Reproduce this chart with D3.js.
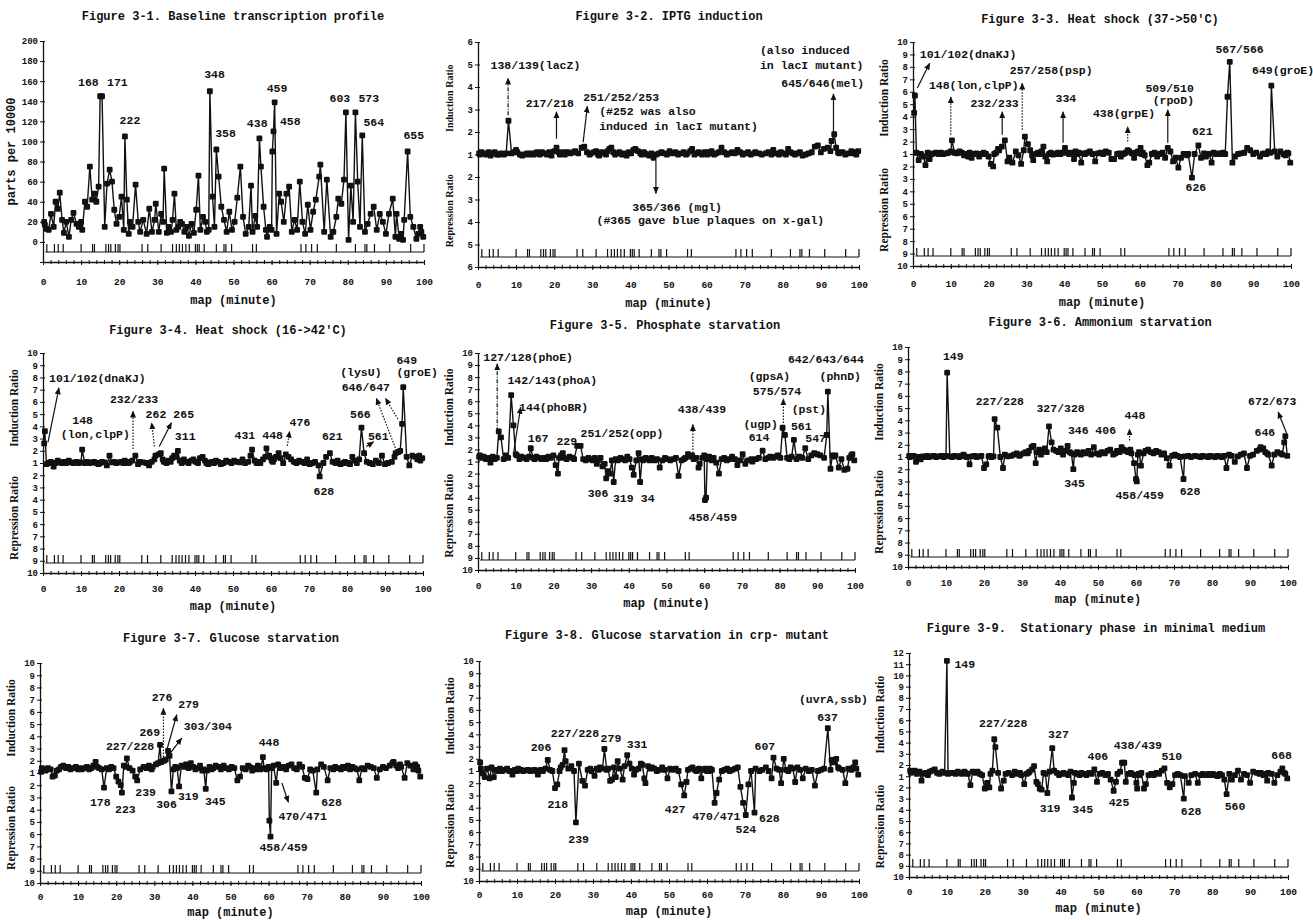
<!DOCTYPE html>
<html><head><meta charset="utf-8">
<script src="https://cdn.jsdelivr.net/npm/d3@7"></script>
<style>body{margin:0;background:#fff}</style>
</head><body><svg id="c" width="1313" height="920"></svg>
<script>
// ---- shared clone positions on the E. coli map (minutes) ----
const mapX = [
 0.3, 0.5, 0.9, 1.5, 2.1, 2.8, 3.3, 3.9, 4.4, 5.0,
 5.5, 6.1, 6.8, 7.4, 8.0, 8.8, 9.4, 10.0, 10.3, 11.0,
 11.6, 12.3, 12.9, 13.5, 14.0, 14.6, 15.0, 15.5, 16.2, 16.8,
 17.5, 18.1, 18.7, 19.3, 20.0, 20.6, 21.2, 21.5, 22.0, 22.5,
 22.8, 23.5, 24.3, 25.0, 25.5, 26.3, 27.2, 27.9, 28.6, 29.3,
 29.6, 30.4, 31.0, 31.5, 31.8, 32.5, 33.0, 33.6, 34.0, 34.5,
 35.0, 35.5, 36.0, 36.5, 37.1, 37.8, 38.3, 39.0, 39.6, 40.2,
 40.8, 41.3, 42.0, 42.6, 43.0, 43.5, 43.8, 44.5, 45.0, 45.5,
 46.1, 46.8, 47.5, 48.2, 48.9, 49.6, 50.3, 51.0, 51.8, 52.5,
 53.2, 54.0, 54.6, 55.0, 55.7, 56.2, 56.8, 57.2, 57.9, 58.5,
 58.8, 59.5, 60.0, 60.2, 60.5, 60.8, 61.3, 62.0, 62.5, 63.2,
 63.9, 64.6, 65.3, 66.0, 66.7, 67.4, 68.1, 68.8, 69.5, 70.2,
 70.9, 71.6, 72.5, 72.8, 73.8, 74.5, 75.5, 76.2, 77.0, 77.5,
 78.3, 79.0, 79.5, 80.2, 80.8, 81.4, 82.0, 82.6, 83.2, 83.8,
 84.5, 85.2, 86.0, 86.8, 87.6, 88.4, 89.2, 90.0, 90.8, 91.8,
 92.5, 92.8, 93.5, 94.0, 94.5, 94.8, 95.7, 96.4, 97.2, 98.0,
 98.5, 99.0, 99.3, 99.8];

// Figure 3-1: parts per 10000
const baseline = [
 20, 17, 13, 12, 28, 15, 40, 33, 49, 22,
 9, 20, 5, 22, 29, 18, 15, 20, 12, 40,
 35, 75, 42, 48, 40, 55, 145, 145, 15, 58,
 72, 60, 32, 18, 25, 45, 12, 105, 42, 8,
 20, 15, 57, 20, 10, 22, 8, 33, 10, 22,
 38, 10, 28, 20, 73, 9, 15, 10, 22, 48,
 12, 15, 20, 18, 10, 15, 6, 18, 9, 32,
 66, 12, 25, 20, 10, 12, 150, 45, 15, 92,
 65, 35, 22, 10, 30, 12, 20, 44, 75, 25,
 8, 15, 56, 10, 26, 15, 103, 75, 35, 12,
 5, 15, 12, 90, 110, 139, 8, 48, 40, 20,
 48, 55, 10, 22, 12, 60, 20, 8, 37, 12,
 30, 42, 65, 77, 10, 62, 5, 10, 25, 43,
 38, 62, 129, 2, 56, 20, 129, 60, 15, 106,
 10, 18, 28, 35, 12, 28, 20, 8, 28, 43,
 5, 28, 3, 8, 2, 22, 90, 25, 15, 3,
 8, 15, 10, 5];

// Ratios: positive = induction ratio, negative = repression ratio
const iptg = [
 1.05, 1.0, 1.1, 1.05, 1.0, 1.1, -1.05, 1.05, 1.1, 1.0,
 1.0, 1.05, 1.0, 1.05, 2.5, 1.05, 1.1, 1.2, 1.1, 1.0,
 -1.05, 1.0, 1.05, 1.0, 1.05, 1.0, 1.05, 1.1, 1.0, 1.1,
 1.05, 1.0, 1.1, -1.05, 1.15, 1.3, 1.1, 1.0, 1.05, 1.1,
 1.0, 1.1, 1.05, 1.1, 1.15, 1.05, 1.3, 1.35, 1.1, 1.0,
 1.05, 1.1, 1.15, 1.0, -1.05, 1.1, 1.05, 1.0, 1.15, 1.25,
 1.3, 1.1, 1.0, 1.05, 1.1, 1.0, 1.05, -1.05, 1.1, 1.05,
 1.2, 1.25, 1.15, 1.05, 1.0, 1.1, 1.05, 1.0, -1.05, 1.05,
 -1.15, 1.0, 1.05, 1.1, 1.05, 1.0, 1.15, 1.05, 1.1, 1.0,
 1.05, 1.1, 1.0, 1.05, 1.15, 1.25, 1.0, 1.05, 1.1, 1.05,
 1.0, 1.1, 1.05, 1.0, 1.1, 1.05, 1.15, 1.0, 1.05, 1.1,
 1.3, 1.1, 1.0, 1.05, 1.1, 1.05, 1.2, 1.1, 1.0, 1.05,
 1.1, 1.0, 1.05, 1.1, 1.05, 1.0, 1.05, 1.1, 1.0, 1.2,
 1.05, 1.0, 1.1, 1.05, 1.0, 1.25, 1.1, 1.05, 1.0, 1.05,
 1.1, -1.05, 1.0, 1.05, 1.1, 1.35, 1.4, 1.1, 1.25, 1.3,
 1.15, 1.6, 1.9, 1.3, 1.1, 1.05, 1.1, 1.0, 1.05, 1.15,
 1.05, 1.1, 1.0, 1.15];

const heat50 = [
 4.3, 5.7, 1.1, -1.5, 1.0, -1.2, -1.9, 1.1, -1.4, 1.0,
 1.05, 1.1, 1.0, 1.1, 1.0, 1.05, 1.1, 1.2, 2.1, 1.1,
 1.05, 1.2, 1.1, -1.1, 1.0, -1.2, 1.1, -1.3, 1.0, 1.05,
 -1.2, 1.0, 1.1, 1.0, -1.2, -1.8, -2.0, 1.0, 1.1, 1.4,
 1.3, 1.6, 2.1, -1.6, -1.3, -1.7, 1.2, -1.1, -1.8, 1.3,
 2.4, 1.8, 1.3, -1.1, -1.5, 1.0, 1.1, 1.0, 1.2, 1.6,
 -1.2, -1.6, 1.0, 1.1, -1.05, 1.0, 1.1, 1.0, 1.1, 1.5,
 1.1, 1.0, 1.1, -1.4, 1.2, 1.0, 1.1, -1.7, 1.05, 1.0,
 1.1, 1.2, 1.0, -1.6, 1.05, 1.1, 1.0, 1.2, 1.1, -1.4,
 -1.4, 1.0, 1.05, -1.2, 1.0, 1.1, 1.3, 1.2, 1.05, -1.3,
 1.1, 1.2, 1.05, 1.5, 1.0, 1.1, -1.1, -1.9, -1.7, 1.0,
 1.1, -1.2, 1.0, 1.1, -1.3, 1.5, 1.2, -1.6, -1.3, -2.1,
 -1.3, 1.0, -1.1, 1.0, -2.9, 1.0, 1.7, -1.3, 1.05, -1.2,
 1.0, -1.7, 1.1, 1.0, 1.05, 1.0, 1.1, 1.0, 5.6, 8.4,
 -1.7, -1.2, 1.0, 1.05, 1.1, 1.5, 1.3, 1.0, 1.1, -1.2,
 1.0, 1.05, 1.0, 1.2, 1.1, 6.5, 1.2, -1.2, 1.2, 1.0,
 -1.1, 1.1, 1.05, -1.7];

const heat42 = [
 2.6, 3.6, -1.1, 1.0, 1.1, -1.3, 1.0, 1.2, 1.05, 1.0,
 1.1, 1.0, 1.2, 1.05, 1.0, 1.1, 1.0, 1.05, 2.1, 1.0,
 1.1, 1.0, 1.05, 1.1, 1.0, -1.1, 1.0, 1.1, 1.05, -1.2,
 1.6, 1.05, 1.1, 1.0, 1.05, 1.1, 1.0, 1.2, 1.1, 1.0,
 1.05, 1.2, 1.6, -1.1, 1.1, 1.05, 1.0, -1.2, 1.1, 1.3,
 1.6, 1.7, 1.8, 1.3, 1.1, 1.0, 1.2, 1.1, 1.4, 1.6,
 1.5, 2.0, 1.2, 1.0, 1.3, 1.1, 1.0, 1.2, 1.3, 1.1,
 1.0, 1.4, 1.5, 1.2, 1.0, -1.1, 1.05, 1.1, 1.0, 1.2,
 1.1, -1.1, 1.0, 1.2, 1.1, 1.0, 1.2, 1.1, 1.05, 1.3,
 1.0, 1.1, 1.6, 2.1, 1.2, 1.0, 1.1, 1.0, 1.3, 1.5,
 2.2, 1.6, 1.4, 1.2, 1.1, 1.3, 1.5, 1.8, 1.4, 1.0,
 1.7, 1.5, 1.3, 1.1, 1.0, 1.2, 1.1, 1.0, 1.3, -1.1,
 1.0, 1.1, -1.2, -2.1, 1.0, 1.5, 1.8, 1.1, 1.0, 1.2,
 -1.1, 1.0, 1.1, 1.0, -1.1, 1.5, 1.2, 1.0, 1.3, 3.9,
 1.8, 1.1, 1.0, -1.1, 1.2, 1.0, 1.6, -1.1, 1.0, 1.1,
 1.5, 1.8, 1.9, 2.0, 4.2, 7.2, 1.5, -1.2, 1.6, 1.5,
 1.3, 1.6, 1.2, 1.4];

const phosphate = [
 1.4, 1.5, 1.3, 1.4, 1.2, 1.3, -1.1, 1.4, 1.2, 1.3,
 3.5, 3.0, 1.2, 1.5, 1.3, 6.5, 4.0, 1.6, 1.5, 1.2,
 1.4, 1.3, 1.2, 1.4, 2.1, 1.3, 1.2, 1.4, 1.3, 1.2,
 1.3, 1.2, 1.4, 1.3, 1.5, -1.3, -2.0, 1.3, 1.5, 1.7,
 1.3, 1.2, 1.4, 1.3, 1.2, 2.3, 2.3, 1.2, 1.1, 1.3,
 1.2, 1.1, 1.3, -1.2, 1.1, 1.3, -1.4, -1.2, -2.4, -1.8,
 -2.0, 1.1, -2.7, 1.2, 1.1, 1.3, 1.2, 1.1, 1.4, 1.2,
 -1.5, -2.1, 1.1, 1.7, -2.7, 1.2, 1.1, 1.3, 1.2, 1.1,
 1.3, 1.1, 1.2, -1.5, 1.1, 1.3, 1.2, 1.1, 1.2, 1.3,
 -2.2, 1.1, 1.2, 1.3, 1.6, 1.4, 1.5, 1.2, 1.3, -1.5,
 -1.2, 1.3, 1.5, -4.2, -4.0, 1.2, 1.4, 1.1, 1.3, -1.1,
 -2.0, 1.2, 1.3, 1.1, 1.2, 1.4, 1.2, -1.3, 1.1, 1.6,
 -1.2, 1.1, 1.2, 1.0, 1.2, 1.3, 1.9, 1.2, 1.3, 1.4,
 1.3, 1.4, 1.5, 1.3, 3.8, 3.2, 1.3, 1.2, 1.4, 2.8,
 1.2, 1.4, 1.3, 2.1, 1.2, 1.5, 1.7, 1.6, 1.5, 1.3,
 3.2, 6.8, -1.6, 1.5, 1.4, 1.5, -1.5, 1.2, -1.7, -1.6,
 1.3, 1.5, 1.6, 1.1];

const ammonium = [
 1.1, 1.0, 1.05, 1.1, -1.4, 1.0, -1.2, 1.05, 1.0, 1.1,
 1.0, 1.05, 1.1, 1.0, 1.05, 1.1, 1.0, 1.1, 7.9, 1.05,
 1.0, 1.1, 1.05, 1.0, 1.1, 1.2, 1.05, 1.0, -1.6, 1.05,
 1.1, 1.0, 1.05, 1.1, -1.9, -1.6, 1.05, 1.1, 1.0, 1.05,
 4.1, 3.4, 1.0, -1.9, 1.2, 1.05, 1.1, 1.2, 1.3, 1.1,
 1.2, 1.3, 1.4, 1.3, 1.5, 1.8, 1.9, -1.5, 1.4, 1.6,
 1.2, 1.5, 1.7, 1.4, 3.5, 2.2, 1.6, 1.5, 1.4, 1.7,
 1.2, 1.5, 1.9, 1.4, 1.3, -2.0, 1.2, 1.4, 1.3, 1.2,
 1.4, 1.3, 1.5, 1.2, 1.8, 1.3, 1.2, 1.4, 1.3, 1.5,
 1.6, 1.2, 1.3, 1.5, 1.4, 1.8, 1.6, 1.5, 1.4, 1.6,
 1.3, -1.5, -2.8, -3.0, 1.2, 1.4, -1.7, 1.3, 1.5, 1.6,
 1.4, 1.3, 1.5, 1.4, 1.2, 1.3, -1.1, -1.7, 1.1, 1.2,
 1.1, 1.0, -2.8, 1.05, 1.1, 1.0, 1.1, 1.05, 1.0, 1.1,
 1.05, 1.0, 1.1, 1.05, 1.0, 1.1, 1.05, 1.0, 1.1, -1.9,
 1.2, 1.1, -1.4, 1.05, 1.2, 1.3, -1.9, 1.1, 1.2, 1.5,
 1.6, 1.8, 1.7, 1.4, 1.3, 1.2, -1.7, 1.2, 1.4, 1.3,
 1.2, 2.2, 2.7, 1.1];

const glucose = [
 1.1, 1.4, 1.3, 1.2, 1.4, 1.3, -1.3, -1.2, 1.2, 1.3,
 1.5, 1.6, 1.4, 1.5, 1.3, 1.4, 1.5, 1.3, 1.4, 1.3,
 1.4, 1.5, 1.3, 1.4, 1.6, 1.9, 1.5, 1.4, 1.3, -2.2,
 1.4, 1.3, 1.5, 1.4, -1.3, -1.7, -2.0, -2.6, 1.6, 1.5,
 2.2, 1.4, 1.2, -1.3, -1.6, 1.3, 1.5, 1.4, 1.6, 1.3,
 1.5, 1.7, 1.8, 3.3, 1.9, 2.0, 2.1, 2.8, 2.4, -2.5,
 1.3, 1.5, 1.4, -2.1, 1.6, 1.5, 1.7, 1.4, 1.8, 1.5,
 1.3, 1.4, 1.6, 1.2, 1.3, -2.3, 1.2, 1.5, 1.3, 1.4,
 1.6, 1.5, 1.3, 1.6, 1.4, 1.3, 1.5, 1.4, -1.6, -1.3,
 1.4, 1.3, 1.6, 1.5, 1.2, 1.4, 1.3, 1.6, 1.3, 2.3,
 1.4, 1.3, 1.5, -4.9, -6.2, 1.4, 1.6, -1.8, 1.7, 1.4,
 1.5, 1.3, 1.6, 1.7, 1.4, 1.3, 1.7, 1.5, -1.4, -1.5,
 1.3, 1.2, -2.6, 1.3, 1.7, 1.5, -1.6, 1.4, 1.3, 1.5,
 1.4, 1.3, 1.5, 1.4, 1.6, 1.3, 1.5, 1.4, 1.3, -1.6,
 1.4, 1.3, 1.6, 1.5, 1.4, -1.4, 1.3, 1.5, 1.4, 1.6,
 1.8, 1.9, 1.6, 1.4, 1.7, 1.5, -1.4, 1.8, 1.6, 1.3,
 1.7, 1.5, 1.2, -1.3];

const glucoseCrp = [
 1.7, 1.2, -1.2, -1.5, 1.2, -1.6, 1.3, -1.5, 1.1, 1.0,
 1.2, 1.0, 1.1, 1.2, 1.0, -1.3, 1.1, 1.0, 1.2, 1.1,
 1.0, 1.05, 1.1, 1.0, 1.05, 1.1, 1.0, -1.3, 1.1, 1.0,
 1.2, 1.9, 1.1, 1.0, -2.4, -2.1, 1.0, 1.3, 1.5, 2.7,
 1.8, 1.2, 1.4, 1.0, -5.2, 1.6, -1.8, -2.2, 1.1, 1.2,
 1.0, -1.4, 1.2, 1.1, 1.3, 1.2, 2.8, 1.1, 1.2, -1.8,
 -1.7, 1.3, -1.5, 1.8, 1.2, -1.7, 1.4, 2.3, 1.6, 1.2,
 -1.3, 1.1, 1.2, 1.6, 1.5, -1.6, -2.0, 1.4, 1.2, 1.3,
 1.2, 1.0, 1.1, 1.3, 1.1, -1.6, 1.2, 1.1, 1.2, 1.0,
 -2.1, -3.0, -1.9, 1.1, 1.2, 1.3, 1.1, 1.0, 1.2, -1.6,
 1.1, 1.2, 1.0, 1.1, 1.0, 1.2, 1.1, -3.6, -2.8, -1.7,
 1.0, 1.1, 1.2, 1.0, 1.1, 1.2, 1.3, -2.3, -3.6, -4.6,
 -2.1, 1.0, -4.4, 1.2, 1.0, 1.1, 1.3, 1.0, -1.6, 2.1,
 1.2, 1.1, -2.0, 2.0, 1.1, 1.0, 1.3, 1.2, -1.9, 1.3,
 1.1, -1.6, 1.2, 1.0, 1.1, -2.2, 1.0, 1.1, 1.2, 4.5,
 1.1, 1.9, 1.7, 2.0, 1.3, 1.2, 1.1, -2.0, 1.2, 1.1,
 1.3, 1.7, 1.2, -1.3];

const stationary = [
 1.5, 1.3, 1.4, 1.5, 1.2, 1.4, -1.4, 1.2, 1.3, 1.1,
 1.4, 1.5, 1.6, 1.3, 1.2, 1.4, 1.3, 11.3, 1.2, 1.3,
 1.3, 1.2, 1.4, 1.3, 1.2, 1.4, 1.3, 1.2, -1.8, 1.4,
 1.3, 1.4, 1.2, 1.1, -2.1, -1.6, -2.0, 1.2, 1.5, 4.3,
 3.6, 1.3, -2.1, -1.4, 1.2, 1.3, 1.1, 1.4, 1.2, 1.3,
 1.1, -1.7, 1.2, 1.3, 1.4, 1.6, 1.9, -1.5, -1.7, -2.1,
 -2.2, 1.3, 1.2, -2.5, 1.4, 3.5, 1.5, 1.3, 1.1, 1.2,
 1.3, 1.2, 1.1, 1.4, -2.9, -1.6, 1.3, 1.2, 1.1, 1.3,
 1.2, 1.1, 1.3, 1.2, 1.6, -1.5, 1.2, 1.3, 1.1, 1.2,
 -1.3, -2.3, -1.5, 1.2, 1.4, 2.2, 2.2, -1.5, 1.2, 1.3,
 1.2, 1.1, -1.6, -2.1, 1.2, 1.1, 1.3, -2.1, -1.7, 1.1,
 1.2, 1.1, 1.3, 1.2, 1.5, 1.7, -1.6, -2.0, -1.7, 1.1,
 1.2, 1.1, -3.0, 1.0, -1.6, 1.1, 1.2, -1.6, 1.1, 1.2,
 1.1, 1.2, 1.1, 1.2, 1.1, 1.0, 1.2, 1.1, -1.3, -2.6,
 1.2, -1.3, 1.1, 1.5, -1.3, 1.2, 1.1, -1.6, 1.4, 1.3,
 1.2, 1.3, 1.1, 1.2, -1.4, 1.3, 1.2, -1.6, 1.1, 1.4,
 1.7, 1.3, 1.2, -1.2];

// gene map marks (minutes)
const mapMarks = [1, 3, 4, 5.3, 10, 13, 13.5, 16.5, 17.2, 17.8, 19, 19.7, 20.2, 26, 27.5, 31,
 34, 35, 35.8, 36.6, 37.5, 38.4, 40, 40.5, 41, 42.3, 45.5, 47.5, 48, 49.5, 55, 56,
 67.7, 69, 70.5, 72, 77, 82, 84.5, 85, 87, 91, 96.5, 100];

// tick values
const xTickValues = [0, 10, 20, 30, 40, 50, 60, 70, 80, 90, 100];
const baselineTicks = [-20, 0, 20, 40, 60, 80, 100, 120, 140, 160, 180, 200];
const ratioTicks10 = [10, 9, 8, 7, 6, 5, 4, 3, 2, 1, -2, -3, -4, -5, -6, -7, -8, -9, -10];
const ratioTicks6 = [6, 5, 4, 3, 2, 1, -2, -3, -4, -5, -6];
const ratioTicks12 = [12, 11, 10, 9, 8, 7, 6, 5, 4, 3, 2, 1, -2, -3, -4, -5, -6, -7, -8, -9, -10];

const titles = [
 "Figure 3-1. Baseline transcription profile",
 "Figure 3-2. IPTG induction",
 "Figure 3-3. Heat shock (37->50'C)",
 "Figure 3-4. Heat shock (16->42'C)",
 "Figure 3-5. Phosphate starvation",
 "Figure 3-6. Ammonium starvation",
 "Figure 3-7. Glucose starvation",
 "Figure 3-8. Glucose starvation in crp- mutant",
 "Figure 3-9.  Stationary phase in minimal medium"];

// annotation labels: [text, map minute, ratio]
const labels1 = [["168",9.2,155],["171",16.8,155],["222",20.1,117],["348",42.3,163],["358",45.2,104],
 ["438",53.5,114],["459",58.7,149],["458",62.2,116],["603",75.2,139],["573",82.8,139],["564",84.1,115],["655",94.6,102]];
const labels2 = [["138/139(lacZ)",3.3,4.8],["217/218",12.5,3.1],["251/252/253",27.6,3.4],["(#252 was also",31.8,2.75],
 ["induced in lacI mutant)",31.8,2.1],["(also induced",74.0,5.45],["in lacI mutant)",74.0,4.78],["645/646(mel)",79.6,4.0],
 ["365/366 (mgl)",40.5,-3.5],["(#365 gave blue plaques on x-gal)",31.1,-4.1]];
const labels3 = [["101/102(dnaKJ)",1.8,8.7],["148(lon,clpP)",4.2,6.2],["257/258(psp)",25.6,7.4],["232/233",15.2,4.75],
 ["334",37.7,5.15],["509/510",61.5,5.95],["(rpoD)",63.4,5.05],["438(grpE)",47.6,4.0],["567/566",80.0,9.1],
 ["649(groE)",89.7,7.4],["621",73.8,2.55],["626",72.1,-4.0]];
const labels4 = [["101/102(dnaKJ)",1.6,7.6],["148",7.7,4.17],["(lon,clpP)",4.7,3.03],["232/233",17.6,5.9],["262",27.0,4.7],
 ["265",34.3,4.7],["311",34.7,2.9],["431",50.4,3.0],["448",57.7,3.0],["476",64.9,4.0],["621",73.4,2.9],["628",71.2,-3.65],
 ["566",80.8,4.7],["561",85.5,2.9],["(lysU)",78.2,8.15],["646/647",78.6,6.9],["649",93.0,9.1],["(groE)",93.0,8.1]];
const labels5 = [["127/128(phoE)",1.4,9.3],["142/143(phoA)",7.8,7.4],["144(phoBR)",10.9,5.2],["167",13.2,2.6],["229",20.8,2.4],
 ["251/252(opp)",27.2,3.0],["306",29.1,-3.93],["319",35.8,-4.4],["34",43.2,-4.4],["438/439",53.0,5.0],["458/459",55.9,-5.9],
 ["(gpsA)",71.8,7.8],["575/574",72.9,6.5],["(pst)",83.2,5.05],["(ugp)",70.4,3.8],["614",71.8,2.68],["561",83.0,3.65],
 ["547",86.8,2.6],["642/643/644",82.2,9.15],["(phnD)",90.6,7.8]];
const labels6 = [["149",9.2,8.96],["227/228",17.8,5.28],["327/328",33.8,4.68],["346",42.1,2.9],["406",49.3,2.9],["448",57.0,4.13],
 ["345",41.1,-3.45],["458/459",54.6,-4.4],["628",71.5,-4.08],["646",91.2,2.7],["672/673",89.5,5.28]];
const labels7 = [["276",29.3,6.86],["279",36.3,6.3],["303/304",37.7,4.5],["269",26.1,4.0],["227/228",17.3,2.9],["448",57.4,3.18],
 ["178",13.1,-3.72],["223",19.7,-4.27],["239",25.0,-2.85],["306",30.5,-3.86],["319",36.2,-3.23],["345",43.3,-3.59],
 ["628",73.8,-3.72],["470/471",62.6,-4.81],["458/459",57.6,-7.4]];
const labels8 = [["206",13.6,2.65],["227/228",18.9,3.75],["279",32.0,3.34],["331",38.9,2.87],["218",18.0,-4.0],["239",23.5,-6.9],
 ["427",48.9,-4.43],["470/471",56.1,-4.98],["524",67.5,-6.08],["628",73.7,-5.18],["607",72.5,2.7],["637",89.0,5.12],
 ["(uvrA,ssb)",84.2,6.55]];
const labels9 = [["149",12.0,10.67],["227/228",18.5,5.4],["327",36.7,4.42],["406",47.1,2.49],["438/439",54.0,3.44],["510",66.6,2.49],
 ["668",95.6,2.58],["319",34.5,-4.18],["345",43.1,-4.33],["425",52.7,-3.68],["628",71.7,-4.42],["560",83.3,-3.98]];

// arrows: [x1, r1, x2, r2, style(0 solid,1 dotted,2 dash-dot)]
const arrows2 = [[7.9,2.75,7.9,4.4,2],[20.6,1.7,20.6,2.9,0],[27.6,1.55,28.7,3.15,0],[93.3,2.0,93.3,3.7,0],[46.7,-1.27,46.7,-2.73,0]];
const arrows3 = [[1.15,6.3,4.4,8.3,0],[10.0,2.55,10.0,5.6,1],[23.6,2.55,23.6,4.4,0],[28.9,2.95,28.9,6.7,1],
 [39.7,1.9,39.7,4.4,0],[56.8,2.0,56.8,3.2,1],[67.4,1.9,67.4,4.55,0]];
const arrows4 = [[1.3,2.68,4.2,7.15,0],[23.7,2.14,23.7,5.25,1],[29.3,2.35,28.6,4.3,1],[30.6,2.35,33.8,4.3,0],
 [64.3,2.4,64.9,3.6,1],[85.1,2.35,87.0,2.73,0],[93.0,2.0,87.7,6.3,1],[93.4,4.6,90.1,6.3,1]];
const arrows5 = [[5.1,3.5,5.1,9.1,2],[9.5,1.84,11.3,5.5,0],[57.0,1.7,57.0,4.07,1],[81.0,4.2,81.0,6.2,1]];
const arrows6 = [[58.3,2.36,58.3,3.3,1],[99.6,2.96,97.4,4.68,0]];
const arrows7 = [[32.4,1.82,32.4,6.3,1],[33.3,2.9,35.9,5.77,0],[34.2,2.63,37.2,3.86,0],[63.5,-1.82,65.2,-3.4,0]];

// ---- layout ----
const layouts = [
 {l:43,r:424,t:41,b:262,tx:233,ty:16,pad:13,xt:42},
 {l:478,r:859,t:42,b:267,tx:669,ty:16,pad:11,xt:40},
 {l:913,r:1291,t:42,b:266,tx:1100,ty:19,pad:11,xt:40},
 {l:43,r:423,t:353,b:573,tx:228,ty:330,pad:9,xt:37},
 {l:478,r:855,t:353,b:570,tx:665,ty:325,pad:9,xt:37},
 {l:908,r:1288,t:347,b:567,tx:1100,ty:322,pad:9,xt:36},
 {l:40,r:421,t:663,b:883,tx:231,ty:638,pad:7,xt:33},
 {l:479,r:859,t:661,b:881,tx:667,ty:635,pad:7,xt:34},
 {l:909,r:1288,t:653,b:877,tx:1096,ty:628,pad:8,xt:35}];

const panels = [
 {series:baseline, ticks:baselineTicks, linear:true, labels:labels1, arrows:[]},
 {series:iptg, ticks:ratioTicks6, labels:labels2, arrows:arrows2},
 {series:heat50, ticks:ratioTicks10, labels:labels3, arrows:arrows3},
 {series:heat42, ticks:ratioTicks10, labels:labels4, arrows:arrows4},
 {series:phosphate, ticks:ratioTicks10, labels:labels5, arrows:arrows5},
 {series:ammonium, ticks:ratioTicks10, labels:labels6, arrows:arrows6},
 {series:glucose, ticks:ratioTicks10, labels:labels7, arrows:arrows7},
 {series:glucoseCrp, ticks:ratioTicks10, labels:labels8, arrows:[]},
 {series:stationary, ticks:ratioTicks12, labels:labels9, arrows:[]}];

const MONO = "'Liberation Mono','Courier New',monospace";
const SERIF = "'Liberation Serif','Times New Roman',serif";

const svg = d3.select('#c');
svg.append('rect').attr('width',1313).attr('height',920).attr('fill','#fff');
const defs = svg.append('defs');
defs.append('marker').attr('id','arr').attr('markerUnits','userSpaceOnUse')
  .attr('markerWidth',7).attr('markerHeight',6).attr('refX',6.5).attr('refY',3).attr('orient','auto')
  .append('path').attr('d','M0,0 L7,3 L0,6 Z').attr('fill','#111');

panels.forEach((p, i) => {
  const L = layouts[i];
  const g = svg.append('g');
  const pos = p.linear ? (v => v) : (v => v >= 1 ? v - 1 : v + 1);
  const x = d3.scaleLinear().domain([0,100]).range([L.l, L.r]);
  const y = d3.scaleLinear().domain([pos(d3.min(p.ticks)), pos(d3.max(p.ticks))]).range([L.b, L.t]);

  // title
  g.append('text').attr('x',L.tx).attr('y',L.ty+4).attr('text-anchor','middle')
    .attr('font-family',MONO).attr('font-weight','bold').attr('font-size',12)
    .style('white-space','pre').attr('fill','#111').text(titles[i]);

  // y axis (left with labels, right side ticks to make crossing ticks)
  const yAxis = d3.axisLeft(y).tickValues(p.ticks.map(pos)).tickSizeInner(3).tickSizeOuter(0).tickPadding(2)
    .tickFormat(t => {
      if (p.linear) return t < 0 ? '' : String(t);
      const tv = p.ticks.find(v => pos(v) === t);
      return String(Math.abs(tv));
    });
  const ya = g.append('g').attr('transform',`translate(${L.l},0)`).call(yAxis);
  g.append('g').attr('transform',`translate(${L.l},0)`)
    .call(d3.axisRight(y).tickValues(p.ticks.map(pos)).tickSizeInner(2).tickSizeOuter(0).tickFormat(''))
    .select('.domain').remove();
  ya.selectAll('text').attr('font-family',MONO).attr('font-weight','bold').attr('font-size',9).attr('fill','#111');

  // x axis
  const xa = g.append('g').attr('transform',`translate(0,${L.b})`)
    .call(d3.axisBottom(x).tickValues(xTickValues).tickSizeInner(3).tickSizeOuter(0).tickPadding(L.pad));
  xa.selectAll('text').attr('font-family',MONO).attr('font-weight','bold').attr('font-size',9.5).attr('fill','#111');
  g.append('g').attr('transform',`translate(0,${L.b})`)
    .call(d3.axisBottom(x).tickValues(d3.range(0,101,2)).tickSizeInner(2).tickSizeOuter(0).tickFormat(''))
    .select('.domain').remove();
  g.append('g').attr('transform',`translate(0,${L.b})`)
    .call(d3.axisTop(x).tickValues(d3.range(0,101,2)).tickSizeInner(2).tickSizeOuter(0).tickFormat(''))
    .select('.domain').remove();
  g.selectAll('.domain').attr('stroke','#111').attr('stroke-width',1.3);
  g.selectAll('.tick line').attr('stroke','#111').attr('stroke-width',1);

  g.append('text').attr('x',(L.l+L.r)/2).attr('y',L.b+L.xt).attr('text-anchor','middle')
    .attr('font-family',MONO).attr('font-weight','bold').attr('font-size',12).attr('fill','#111')
    .text('map (minute)');

  // y titles
  if (p.linear) {
    g.append('text').attr('transform',`translate(${L.l-28},${(L.t+L.b)/2}) rotate(-90)`)
      .attr('text-anchor','middle').attr('font-family',MONO).attr('font-weight','bold').attr('font-size',12)
      .attr('fill','#111').text('parts per 10000');
  } else {
    const y0 = y(0);
    const fs = i === 1 ? 10 : 11.5;
    g.append('text').attr('transform',`translate(${L.l-25},${(L.t+y0)/2}) rotate(-90)`)
      .attr('text-anchor','middle').attr('font-family',SERIF).attr('font-weight','bold').attr('font-size',fs)
      .attr('fill','#111').text('Induction Ratio');
    g.append('text').attr('transform',`translate(${L.l-25},${(y0+L.b)/2}) rotate(-90)`)
      .attr('text-anchor','middle').attr('font-family',SERIF).attr('font-weight','bold').attr('font-size',fs)
      .attr('fill','#111').text('Repression Ratio');
  }

  // gene map band
  const by = L.b - 10;
  g.append('line').attr('x1',x(0.6)).attr('x2',x(100)).attr('y1',by).attr('y2',by)
    .attr('stroke','#111').attr('stroke-width',1);
  g.selectAll('.mk').data(mapMarks).enter().append('line')
    .attr('x1',d=>x(d)).attr('x2',d=>x(d)).attr('y1',by).attr('y2',by-8)
    .attr('stroke','#111').attr('stroke-width',1.2);

  // series
  const data = mapX.map((mx, k) => ({x: mx, v: p.series[k]})).filter(d => d.v !== undefined);
  const line = d3.line().x(d => x(d.x)).y(d => y(pos(d.v)));
  g.append('path').datum(data).attr('d',line).attr('fill','none').attr('stroke','#111').attr('stroke-width',1.4)
    .attr('stroke-linejoin','round');
  const s = 5.8;
  g.selectAll('.pt').data(data).enter().append('rect')
    .attr('x',d => x(d.x)-s/2).attr('y',d => y(pos(d.v))-s/2).attr('width',s).attr('height',s)
    .attr('rx',1.2).attr('fill','#111');

  // arrows
  p.arrows.forEach(a => {
    g.append('line').attr('x1',x(a[0])).attr('y1',y(pos(a[1]))).attr('x2',x(a[2])).attr('y2',y(pos(a[3])))
      .attr('stroke','#111').attr('stroke-width',1.2)
      .attr('stroke-dasharray', a[4]===1 ? '1.5,1.5' : (a[4]===2 ? '4,1.5,1,1.5' : null))
      .attr('marker-end','url(#arr)');
  });

  // labels
  p.labels.forEach(lb => {
    g.append('text').attr('x',x(lb[1])).attr('y',y(pos(lb[2])))
      .attr('font-family',MONO).attr('font-weight','bold').attr('font-size',11.5).attr('fill','#111')
      .text(lb[0]);
  });
});
</script></body></html>
